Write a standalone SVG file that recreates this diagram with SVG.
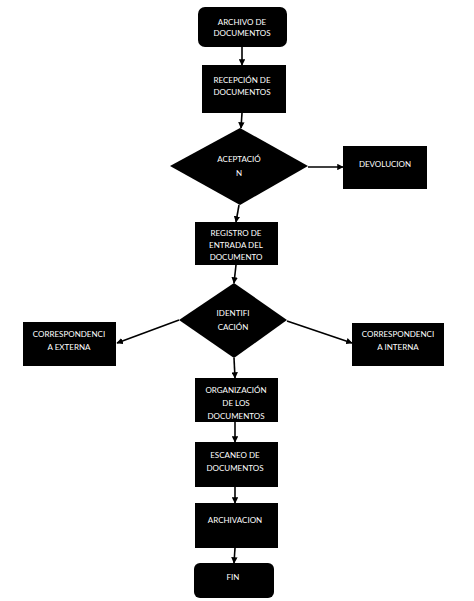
<svg xmlns="http://www.w3.org/2000/svg" width="474" height="601" viewBox="0 0 474 601">
<style>
.n{fill:#000}
.t{fill:#fff;font-family:Lato,"Open Sans",sans-serif;font-size:8px;text-anchor:middle;dominant-baseline:central}
.c{stroke:#000;stroke-width:1.6;fill:none;marker-end:url(#ah)}
</style>
<defs>
<marker id="ah" viewBox="0 0 10 10" refX="9" refY="5" markerWidth="4" markerHeight="4" orient="auto"><path d="M0,0L10,5L0,10z" fill="#000"/></marker>
<clipPath id="orgclip"><rect x="195" y="378" width="83" height="44"/></clipPath>
</defs>
<rect width="474" height="601" fill="#fff"/>
<g id="connectors">
<line class="c" x1="242" y1="47" x2="242" y2="65"/>
<line class="c" x1="242" y1="113" x2="241" y2="128"/>
<line class="c" x1="308" y1="167" x2="343" y2="167"/>
<line class="c" x1="239" y1="205" x2="236" y2="222"/>
<line class="c" x1="236" y1="265" x2="234" y2="283"/>
<line class="c" x1="179" y1="320" x2="117" y2="343"/>
<line class="c" x1="287" y1="321" x2="352" y2="343"/>
<line class="c" x1="234" y1="358" x2="235" y2="378"/>
<line class="c" x1="235" y1="422" x2="235" y2="442"/>
<line class="c" x1="235" y1="487" x2="235" y2="503"/>
<line class="c" x1="235" y1="548" x2="234" y2="563"/>
</g>
<g id="archivo-documentos">
<rect class="n" x="198" y="7" width="89" height="40" rx="7"/>
<text class="t" x="242" y="22">ARCHIVO DE</text>
<text class="t" x="242" y="33">DOCUMENTOS</text>
</g>
<g id="recepcion">
<rect class="n" x="202" y="65" width="84" height="48"/>
<text class="t" x="242" y="80">RECEPCIÓN DE</text>
<text class="t" x="242" y="92">DOCUMENTOS</text>
</g>
<g id="aceptacion">
<polygon class="n" points="240,128 308,166 240,205 170,166"/>
<text class="t" x="239" y="159">ACEPTACIÓ</text>
<text class="t" x="239" y="173">N</text>
</g>
<g id="devolucion">
<rect class="n" x="343" y="146" width="84" height="43"/>
<text class="t" x="385" y="164">DEVOLUCION</text>
</g>
<g id="registro">
<rect class="n" x="195" y="222" width="83" height="43"/>
<text class="t" x="236" y="233">REGISTRO DE</text>
<text class="t" x="236" y="245">ENTRADA DEL</text>
<text class="t" x="236" y="257">DOCUMENTO</text>
</g>
<g id="identificacion">
<polygon class="n" points="234,283 287,320 234,358 179,320"/>
<text class="t" x="233" y="313">IDENTIFI</text>
<text class="t" x="233" y="327">CACIÓN</text>
</g>
<g id="correspondencia-externa">
<rect class="n" x="23" y="322" width="93" height="44"/>
<text class="t" x="69" y="334">CORRESPONDENCI</text>
<text class="t" x="69" y="347">A EXTERNA</text>
</g>
<g id="correspondencia-interna">
<rect class="n" x="352" y="323" width="92" height="43"/>
<text class="t" x="398" y="334">CORRESPONDENCI</text>
<text class="t" x="398" y="347">A INTERNA</text>
</g>
<g id="organizacion">
<rect class="n" x="195" y="378" width="83" height="44"/>
<g clip-path="url(#orgclip)">
<text class="t" x="236" y="390">ORGANIZACIÓN</text>
<text class="t" x="236" y="403">DE LOS</text>
<text class="t" x="236" y="416">DOCUMENTOS</text>
</g>
</g>
<g id="escaneo">
<rect class="n" x="195" y="442" width="83" height="45"/>
<text class="t" x="235" y="455">ESCANEO DE</text>
<text class="t" x="235" y="468">DOCUMENTOS</text>
</g>
<g id="archivacion">
<rect class="n" x="195" y="503" width="83" height="45"/>
<text class="t" x="235" y="520">ARCHIVACION</text>
</g>
<g id="fin">
<rect class="n" x="194" y="563" width="80" height="35" rx="6"/>
<text class="t" x="233" y="577">FIN</text>
</g>
</svg>
